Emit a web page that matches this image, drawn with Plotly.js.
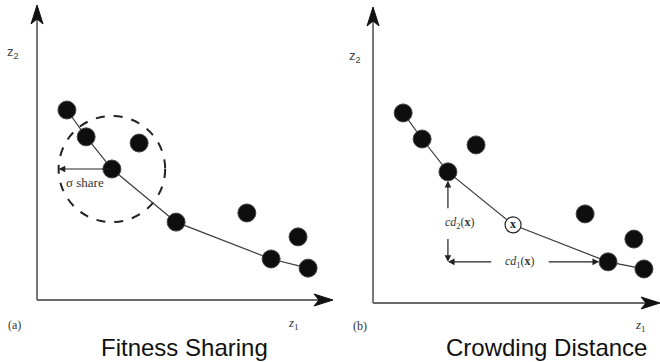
<!DOCTYPE html>
<html>
<head>
<meta charset="utf-8">
<script src="https://cdn.plot.ly/plotly-3.0.1.min.js"></script>
<style>html,body{margin:0;padding:0;background:#fff;}#chart{width:660px;height:362px;}</style>
</head>
<body>
<div id="chart"></div>
<script>
// ---- data (objective space z1, z2) ----
const leftFrontZ1 = [1.01, 1.66, 2.53, 4.70, 7.91, 9.16];
const leftFrontZ2 = [6.44, 5.53, 4.44, 2.64, 1.39, 1.08];
const leftOtherZ1 = [3.45, 7.09, 8.82];
const leftOtherZ2 = [5.32, 2.95, 2.14];
const rightFrontZ1 = [1.05, 1.71, 2.61, 4.88, 8.19, 9.44];
const rightFrontZ2 = [6.42, 5.54, 4.43, 2.64, 1.39, 1.15];
const rightOtherZ1 = [3.59, 7.39, 9.09];
const rightOtherZ2 = [5.34, 3.01, 2.16];
const shareIndex = 2;      // point whose niche is drawn
const crowdIndex = 3;      // solution x
const sigmaShare = 1.8;    // niche radius
const panelTitles = ['Fitness Sharing', 'Crowding Distance'];
const panelTags = ['(a)', '(b)'];

const dotColor = '#0e0e0e';
const lineColor = '#3a3a3a';
const axisColor = '#6a6a6a';

const solidR = rightFrontZ1.map((v, i) => i).filter(i => i !== crowdIndex);

const dot = {size: 18, color: dotColor, line: {color: '#444', width: 1}};

const traces = [
  {x: leftFrontZ1, y: leftFrontZ2, xaxis: 'x', yaxis: 'y', mode: 'lines', line: {color: lineColor, width: 1.2}, hoverinfo: 'skip'},
  {x: leftFrontZ1, y: leftFrontZ2, xaxis: 'x', yaxis: 'y', mode: 'markers', marker: dot},
  {x: leftOtherZ1, y: leftOtherZ2, xaxis: 'x', yaxis: 'y', mode: 'markers', marker: dot},
  {x: rightFrontZ1, y: rightFrontZ2, xaxis: 'x2', yaxis: 'y2', mode: 'lines', line: {color: lineColor, width: 1.2}, hoverinfo: 'skip'},
  {x: solidR.map(i => rightFrontZ1[i]), y: solidR.map(i => rightFrontZ2[i]), xaxis: 'x2', yaxis: 'y2', mode: 'markers', marker: dot},
  {x: rightOtherZ1, y: rightOtherZ2, xaxis: 'x2', yaxis: 'y2', mode: 'markers', marker: dot},
  {x: [rightFrontZ1[crowdIndex]], y: [rightFrontZ2[crowdIndex]], xaxis: 'x2', yaxis: 'y2', mode: 'markers+text',
   marker: {size: 16, color: '#fff', line: {color: '#222', width: 1.2}},
   text: ['<b>x</b>'], textposition: 'middle center', textfont: {family: 'Liberation Serif', size: 12, color: '#222'}}
];

const cx = leftFrontZ1[shareIndex], cy = leftFrontZ2[shareIndex];
const px = rightFrontZ1[crowdIndex - 1], py = rightFrontZ2[crowdIndex - 1];
const nx = rightFrontZ1[crowdIndex + 1], ny = rightFrontZ2[crowdIndex + 1];

function axisLine(xr, yr, horiz) {
  return {type: 'line', xref: xr + ' domain', yref: yr + ' domain', x0: 0, y0: 0,
          x1: horiz ? 0.985 : 0, y1: horiz ? 0 : 0.985, line: {color: axisColor, width: 1.8}};
}
function headRight(xr, yr) {
  return {type: 'path', xref: xr + ' domain', yref: yr + ' domain', xsizemode: 'pixel', ysizemode: 'pixel',
          xanchor: 1, yanchor: 0, path: 'M0,0 L-19,6 L-14,0 L-19,-6 Z',
          fillcolor: '#111', line: {color: '#111', width: 1}};
}
function headUp(xr, yr) {
  return {type: 'path', xref: xr + ' domain', yref: yr + ' domain', xsizemode: 'pixel', ysizemode: 'pixel',
          xanchor: 0, yanchor: 1, path: 'M0,0 L-6,-19 L0,-14 L6,-19 Z',
          fillcolor: '#111', line: {color: '#111', width: 1}};
}

const shapes = [
  axisLine('x', 'y', true), axisLine('x', 'y', false), headRight('x', 'y'), headUp('x', 'y'),
  axisLine('x2', 'y2', true), axisLine('x2', 'y2', false), headRight('x2', 'y2'), headUp('x2', 'y2'),
  {type: 'circle', xref: 'x', yref: 'y', x0: cx - sigmaShare, x1: cx + sigmaShare, y0: cy - sigmaShare, y1: cy + sigmaShare,
   line: {color: '#222', width: 2, dash: 'dash'}, layer: 'below'}
];

const arrowBase = {text: '', showarrow: true, arrowhead: 2, arrowsize: 1.1, arrowwidth: 1.2, arrowcolor: '#222'};
const serif = {family: 'Liberation Serif', color: '#333'};
const C = {xanchor: 'center', yanchor: 'middle', showarrow: false};

const annotations = [
  // sigma share arrow
  Object.assign({}, arrowBase, {xref: 'x', yref: 'y', axref: 'x', ayref: 'y', x: cx - sigmaShare, y: cy, ax: cx, ay: cy, standoff: 0}),
  Object.assign({}, C, {xref: 'x', yref: 'y', x: cx - sigmaShare / 2, y: cy, yshift: -13, text: 'σ share', font: Object.assign({size: 13}, serif)}),
  // cd2 arrows (vertical)
  Object.assign({}, arrowBase, {xref: 'x2', yref: 'y2', axref: 'x2', ayref: 'y2', x: px, y: py, ax: px, ay: py - (py - ny) * 0.42, standoff: 9}),
  Object.assign({}, arrowBase, {xref: 'x2', yref: 'y2', axref: 'x2', ayref: 'y2', x: px, y: ny, ax: px, ay: py - (py - ny) * 0.73, standoff: 0}),
  Object.assign({}, C, {xref: 'x2', yref: 'y2', x: px, y: (py + ny) / 2, xshift: 12, yshift: -6,
   text: '<i>cd</i><sub>2</sub>(<b>x</b>)', font: Object.assign({size: 12}, serif)}),
  // cd1 arrows (horizontal)
  Object.assign({}, arrowBase, {xref: 'x2', yref: 'y2', axref: 'x2', ayref: 'y2', x: px, y: ny, ax: px + (nx - px) * 0.28, ay: ny, standoff: 0}),
  Object.assign({}, arrowBase, {xref: 'x2', yref: 'y2', axref: 'x2', ayref: 'y2', x: nx, y: ny, ax: px + (nx - px) * 0.62, ay: ny, standoff: 9}),
  Object.assign({}, C, {xref: 'x2', yref: 'y2', x: (px + nx) / 2, y: ny, xshift: -8,
   text: '<i>cd</i><sub>1</sub>(<b>x</b>)', font: Object.assign({size: 12}, serif)}),
  // axis labels
  Object.assign({}, C, {xref: 'paper', yref: 'paper', x: 0.0197, y: 0.854, text: 'z<sub>2</sub>', font: {family: 'Liberation Sans', size: 13, color: '#444'}}),
  Object.assign({}, C, {xref: 'paper', yref: 'paper', x: 0.538, y: 0.843, text: 'z<sub>2</sub>', font: {family: 'Liberation Sans', size: 13, color: '#444'}}),
  Object.assign({}, C, {xref: 'paper', yref: 'paper', x: 0.444, y: 0.105, text: '<i>z</i><sub>1</sub>', font: Object.assign({size: 13}, serif)}),
  Object.assign({}, C, {xref: 'paper', yref: 'paper', x: 0.970, y: 0.102, text: '<i>z</i><sub>1</sub>', font: Object.assign({size: 13}, serif)}),
  Object.assign({}, C, {xref: 'paper', yref: 'paper', x: 0.0227, y: 0.102, text: panelTags[0], font: Object.assign({size: 12}, serif)}),
  Object.assign({}, C, {xref: 'paper', yref: 'paper', x: 0.5455, y: 0.0994, text: panelTags[1], font: Object.assign({size: 12}, serif)}),
  // panel captions
  Object.assign({}, C, {xref: 'paper', yref: 'paper', x: 0.2795, y: 0.0387, text: panelTitles[0], font: {family: 'Liberation Sans', size: 24, color: '#111'}}),
  Object.assign({}, C, {xref: 'paper', yref: 'paper', x: 0.828, y: 0.0387, text: panelTitles[1], font: {family: 'Liberation Sans', size: 24, color: '#111'}})
];

const hidden = {visible: false, range: [0, 10], fixedrange: true};
const layout = {
  width: 660, height: 362, margin: {l: 0, r: 0, t: 0, b: 0},
  paper_bgcolor: '#fff', plot_bgcolor: 'rgba(0,0,0,0)', showlegend: false,
  xaxis: Object.assign({}, hidden, {domain: [0.0561, 0.5045], anchor: 'y'}),
  yaxis: Object.assign({}, hidden, {domain: [0.1713, 0.9862], anchor: 'x'}),
  xaxis2: Object.assign({}, hidden, {domain: [0.5652, 1.0], anchor: 'y2'}),
  yaxis2: Object.assign({}, hidden, {domain: [0.163, 0.9807], anchor: 'x2'}),
  shapes: shapes, annotations: annotations
};

Plotly.newPlot('chart', traces, layout, {displayModeBar: false, staticPlot: true});
</script>
</body>
</html>
